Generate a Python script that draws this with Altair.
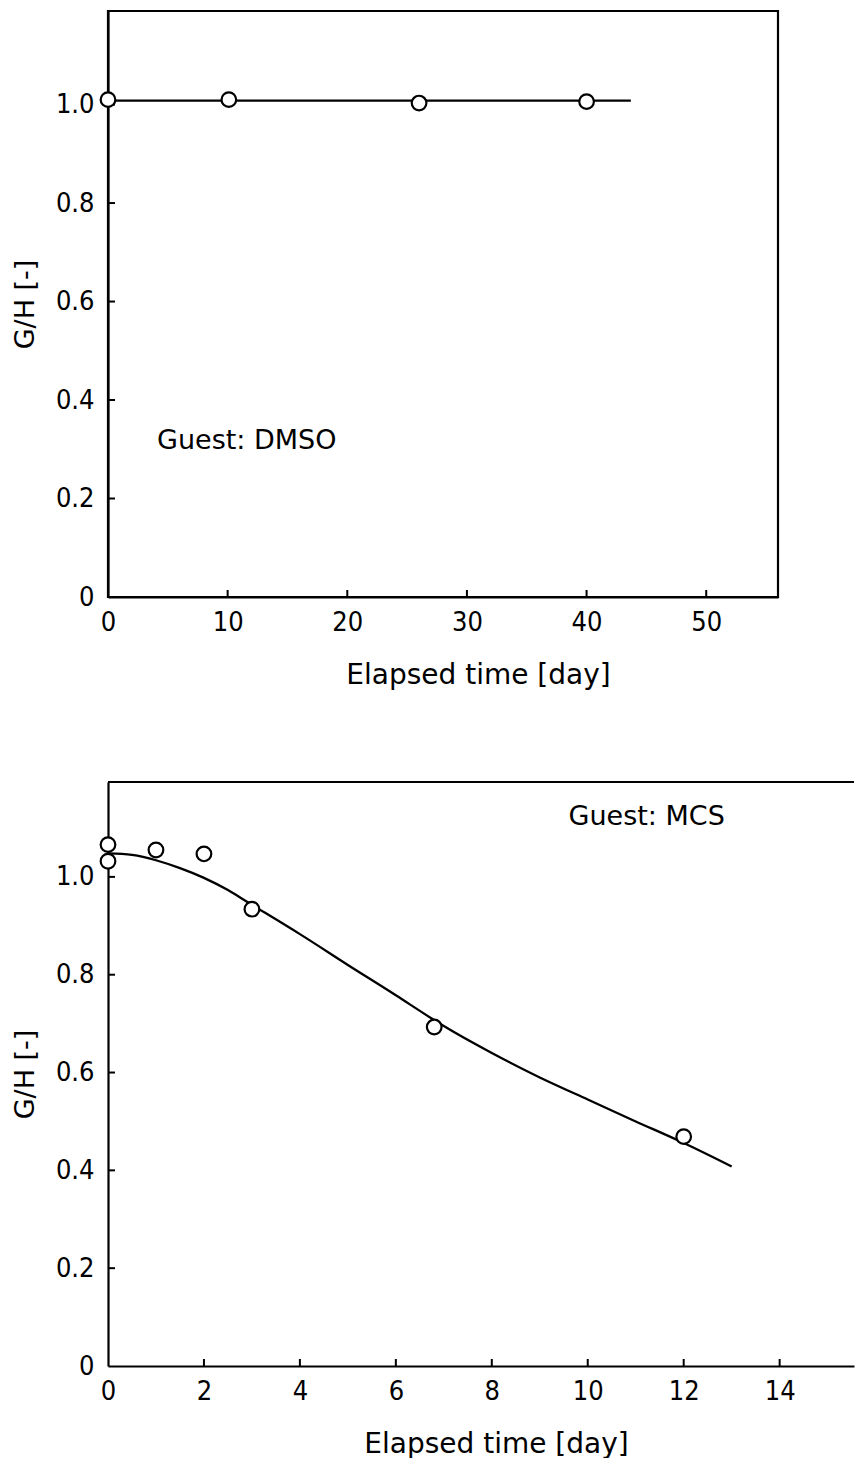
import altair as alt
import pandas as pd

# ---------------- data ----------------
# Upper panel, Guest: DMSO
dmso_days = [0.0, 10.1, 26.0, 40.0]
dmso_gh = [1.010, 1.010, 1.003, 1.006]
dmso_fit_days = [0.0, 43.7]
dmso_fit_gh = [1.008, 1.008]

# Lower panel, Guest: MCS
mcs_days = [0.0, 0.0, 1.0, 2.0, 3.0, 6.8, 12.0]
mcs_gh = [1.066, 1.032, 1.055, 1.047, 0.934, 0.693, 0.469]
mcs_fit_days = [0.0, 0.5, 1.0, 1.5, 2.0, 2.5, 3.0, 4.0, 5.0, 6.0, 7.0, 8.0, 9.0, 10.0, 11.0, 12.0, 13.0]
mcs_fit_gh = [1.048, 1.045, 1.034, 1.018, 0.998, 0.973, 0.943, 0.883, 0.820, 0.758, 0.695, 0.640, 0.590, 0.545, 0.500, 0.456, 0.408]

top_xticks = [0, 10, 20, 30, 40, 50]
bottom_xticks = [0, 2, 4, 6, 8, 10, 12, 14]
yticks = [0, 0.2, 0.4, 0.6, 0.8, 1.0]

x_title = "Elapsed time [day]"
y_title = "G/H [-]"
top_label = "Guest:  DMSO"
bottom_label = "Guest:  MCS"

# ---------------- styling ----------------
FONT = "DejaVu Sans"
LABEL_FONT = "'DejaVu Sans Condensed', 'Liberation Sans Narrow', 'DejaVu Sans'"
TOP_W, TOP_H = 670, 586
BOT_W, BOT_H = 746, 584
TICK = 7


def make_panel(days, gh, fit_days, fit_gh, xticks, xmax, ymax, W, H,
               label, label_x, label_y, title_x, boxed):
    pts = pd.DataFrame({"day": days, "gh": gh})
    fit = pd.DataFrame({"day": fit_days, "gh": fit_gh})
    xt = pd.DataFrame({"v": xticks[1:]})
    yt = pd.DataFrame({"v": yticks[1:]})
    ann = pd.DataFrame({"day": [label_x], "gh": [label_y], "t": [label]})

    xscale = alt.Scale(domain=[0, xmax], nice=False, zero=False)
    yscale = alt.Scale(domain=[0, ymax], nice=False, zero=False)

    xaxis = alt.Axis(values=xticks, ticks=False, grid=False, domain=True,
                     domainColor="black", domainWidth=2.2,
                     labelFont=LABEL_FONT, labelFontSize=27, labelColor="black",
                     labelPadding=12, labelFlush=False,
                     title=x_title, titleFont=FONT, titleFontSize=28,
                     titleFontWeight="normal", titleColor="black",
                     titlePadding=26, titleX=title_x)
    yaxis = alt.Axis(values=yticks, ticks=False, grid=False, domain=True,
                     domainColor="black", domainWidth=2.2,
                     labelFont=LABEL_FONT, labelFontSize=27, labelColor="black",
                     labelPadding=14, labelFlush=False,
                     labelExpr="datum.value == 0 ? '0' : format(datum.value, '.1f')",
                     title=y_title, titleFont=FONT, titleFontSize=27,
                     titleFontWeight="normal", titleColor="black",
                     titlePadding=16)

    line = alt.Chart(fit).mark_line(color="black", strokeWidth=2.3,
                                    interpolate="natural").encode(
        x=alt.X("day:Q", scale=xscale, axis=xaxis),
        y=alt.Y("gh:Q", scale=yscale, axis=yaxis),
    )
    points = alt.Chart(pts).mark_point(shape="circle", filled=False, fill="white",
                                       fillOpacity=1, color="black",
                                       strokeWidth=2.2, size=215, opacity=1).encode(
        x="day:Q", y="gh:Q")
    xtick_marks = alt.Chart(xt).mark_rule(color="black", strokeWidth=2).encode(
        x="v:Q", y=alt.value(H), y2=alt.value(H - TICK))
    ytick_marks = alt.Chart(yt).mark_rule(color="black", strokeWidth=2).encode(
        y="v:Q", x=alt.value(0), x2=alt.value(TICK))
    text = alt.Chart(ann).mark_text(font=FONT, fontSize=27, align="left",
                                    baseline="middle", color="black").encode(
        x="day:Q", y="gh:Q", text="t:N")

    layers = [xtick_marks, ytick_marks, line, points, text]
    if boxed:
        view = alt.ViewBackground(stroke="black", strokeWidth=2.2, fill="white")
    else:
        view = alt.ViewBackground(strokeOpacity=0, fill="white")
        top_border = alt.Chart(pts).mark_rule(color="black", strokeWidth=2.2).encode(
            x=alt.value(0), x2=alt.value(W), y=alt.value(0))
        layers.append(top_border)
    return alt.layer(*layers).properties(width=W, height=H, view=view)


top = make_panel(dmso_days, dmso_gh, dmso_fit_days, dmso_fit_gh, top_xticks,
                 56, 1.19, TOP_W, TOP_H, top_label, 4.1, 0.317, 370, True)
bottom = make_panel(mcs_days, mcs_gh, mcs_fit_days, mcs_fit_gh, bottom_xticks,
                    15.55, 1.194, BOT_W, BOT_H, bottom_label, 9.6, 1.122, 388, False)

chart = alt.vconcat(top, bottom, spacing=89).properties(
    padding={"left": 2, "top": 1, "right": 0, "bottom": 0},
    background="white",
).configure_view(strokeWidth=2)

chart.save("out.html", embed_options={"renderer": "svg", "actions": False})
